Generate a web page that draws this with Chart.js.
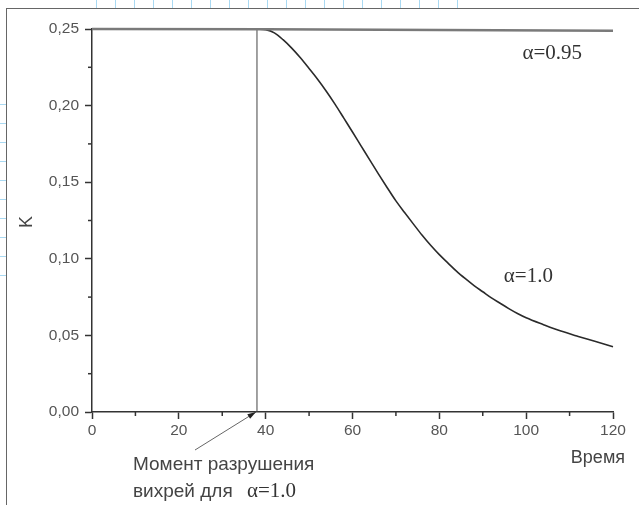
<!DOCTYPE html>
<html>
<head>
<meta charset="utf-8">
<script src="https://cdn.jsdelivr.net/npm/chart.js@4"></script>
<style>
  html, body { margin: 0; padding: 0; background: #fff; }
  #wrap { position: relative; width: 639px; height: 505px; overflow: hidden; }
  #frame { position: absolute; left: 6px; top: 8px; width: 700px; height: 600px; border-left: 1.5px solid #666; border-top: 1.5px solid #666; }
  #blueTop { position: absolute; left: 96px; top: 0; width: 362px; height: 8px;
    background: repeating-linear-gradient(to right, #a9d9f2 0 1px, transparent 1px 19px); }
  #blueLeft { position: absolute; left: 0; top: 104px; width: 6px; height: 172px;
    background: repeating-linear-gradient(to bottom, #a9d9f2 0 1px, transparent 1px 19px); }
  canvas { position: absolute; left: 0; top: 0; }
</style>
</head>
<body>
<div id="wrap">
  <div id="blueTop"></div>
  <div id="blueLeft"></div>
  <div id="frame"></div>
  <canvas id="myChart" width="639" height="505"></canvas>
</div>
<script>
// данные кривых
const time10 = [38, 40, 42, 44, 46, 48, 50, 52, 54, 56, 58, 60, 62, 64, 66, 68, 70, 72, 74, 76, 78,
  80, 82, 84, 86, 88, 90, 92, 94, 96, 98, 100, 104, 108, 112, 116, 120];
const k10 = [0.25, 0.2496, 0.2475, 0.243, 0.2375, 0.2312, 0.2242, 0.217, 0.2092, 0.2008, 0.1918, 0.1828,
  0.1736, 0.1644, 0.1553, 0.1464, 0.1378, 0.1302, 0.1228, 0.1155, 0.1088, 0.1027, 0.0972, 0.0918, 0.087,
  0.0825, 0.0785, 0.0745, 0.071, 0.0675, 0.0643, 0.0615, 0.057, 0.0528, 0.0493, 0.046, 0.0426];
const time095 = [0, 40, 80, 120];
const k095 = [0.25, 0.2499, 0.2494, 0.2489];
const momentTime = 38;
const xTicks = [0, 20, 40, 60, 80, 100, 120];
const yTicks = [0, 0.05, 0.10, 0.15, 0.20, 0.25];

const toPoints = (xs, ys) => xs.map((x, i) => ({ x: x, y: ys[i] }));

// малые засечки, подписи и стрелка
const extras = {
  id: 'extras',
  afterDraw(chart) {
    const c = chart.ctx;
    const xs = chart.scales.x, ys = chart.scales.y;
    c.save();
    c.strokeStyle = '#333';
    c.lineWidth = 1.5;
    for (let v = 10; v < 120; v += 20) {
      const px = xs.getPixelForValue(v);
      c.beginPath(); c.moveTo(px, ys.bottom); c.lineTo(px, ys.bottom + 4); c.stroke();
    }
    for (let v = 0.025; v < 0.25; v += 0.05) {
      const py = ys.getPixelForValue(v);
      c.beginPath(); c.moveTo(xs.left, py); c.lineTo(xs.left - 4, py); c.stroke();
    }

    c.fillStyle = '#333';
    c.font = '21px "Liberation Serif"';
    c.textAlign = 'center';
    c.textBaseline = 'middle';
    c.fillText('\u03b1=0.95', xs.getPixelForValue(106), ys.getPixelForValue(0.234));
    c.fillText('\u03b1=1.0', xs.getPixelForValue(100.5), ys.getPixelForValue(0.0885));

    // ось K
    c.save();
    c.translate(27, 222);
    c.rotate(-Math.PI / 2);
    c.fillStyle = '#444';
    c.font = '18px "Liberation Sans"';
    c.fillText('K', 0, 0);
    c.restore();

    c.fillStyle = '#444';
    c.font = '18px "Liberation Sans"';
    c.textAlign = 'right';
    c.fillText('Время', 625, 458);
    c.textAlign = 'left';
    c.textBaseline = 'alphabetic';
    c.font = '19px "Liberation Sans"';
    c.fillText('Момент разрушения', 133, 470);
    c.fillText('вихрей для', 133, 497);
    c.font = '21px "Liberation Serif"';
    c.fillStyle = '#333';
    c.fillText('\u03b1=1.0', 247, 497);

    // стрелка
    const tipX = xs.getPixelForValue(momentTime) - 1, tipY = ys.bottom;
    const sx = 195, sy = 450;
    c.strokeStyle = '#666';
    c.lineWidth = 1;
    c.beginPath(); c.moveTo(sx, sy); c.lineTo(tipX, tipY); c.stroke();
    const ang = Math.atan2(tipY - sy, tipX - sx);
    c.fillStyle = '#222';
    c.beginPath();
    c.moveTo(tipX, tipY);
    c.lineTo(tipX - 9 * Math.cos(ang - 0.3), tipY - 9 * Math.sin(ang - 0.3));
    c.lineTo(tipX - 9 * Math.cos(ang + 0.3), tipY - 9 * Math.sin(ang + 0.3));
    c.closePath(); c.fill();
    c.restore();
  }
};

const ctx = document.getElementById('myChart');
new Chart(ctx, {
  type: 'line',
  data: {
    datasets: [
      {
        label: 'alpha=0.95',
        data: toPoints(time095, k095),
        borderColor: '#7a7a7a',
        borderWidth: 2.5,
        pointRadius: 0,
        clip: false
      },
      {
        label: 'moment',
        data: toPoints([momentTime, momentTime], [0, 0.25]),
        borderColor: '#444',
        borderWidth: 1,
        pointRadius: 0,
        clip: false
      },
      {
        label: 'alpha=1.0',
        data: toPoints(time10, k10),
        borderColor: '#2a2a2a',
        borderWidth: 1.6,
        pointRadius: 0,
        cubicInterpolationMode: 'monotone',
        clip: false
      }
    ]
  },
  options: {
    responsive: false,
    animation: false,
    layout: { padding: { left: 0, top: 29, right: 26, bottom: 0 } },
    plugins: { legend: { display: false }, tooltip: { enabled: false } },
    scales: {
      x: {
        type: 'linear',
        min: 0,
        max: 120,
        afterFit(scale) { scale.height = 93; },
        afterBuildTicks(scale) {
          scale.ticks = xTicks.map(v => ({ value: v }));
        },
        grid: {
          drawOnChartArea: false,
          tickLength: 7,
          tickWidth: 1.5,
          tickColor: '#333'
        },
        border: { display: true, color: '#333', width: 1.5 },
        ticks: {
          maxRotation: 0,
          autoSkip: false,
          padding: 2,
          color: '#555',
          font: { family: 'Liberation Sans', size: 15.5 },
          callback: v => String(Math.round(v))
        }
      },
      y: {
        min: 0,
        max: 0.25,
        afterFit(scale) { scale.width = 92; },
        afterBuildTicks(scale) {
          scale.ticks = yTicks.map(v => ({ value: v }));
        },
        grid: {
          drawOnChartArea: false,
          tickLength: 7,
          tickWidth: 1.5,
          tickColor: '#333'
        },
        border: { display: true, color: '#333', width: 1.5 },
        ticks: {
          autoSkip: false,
          padding: 6,
          color: '#555',
          font: { family: 'Liberation Sans', size: 15.5 },
          callback: v => v.toFixed(2).replace('.', ',')
        }
      }
    }
  },
  plugins: [extras]
});
</script>
</body>
</html>
